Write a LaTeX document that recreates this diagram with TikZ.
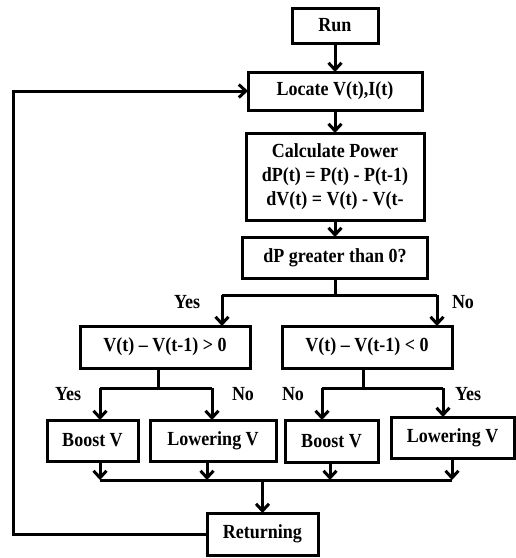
\documentclass[tikz,border=0pt]{standalone}
\usepackage{fontspec}
\setmainfont[FakeStretch=0.9]{Liberation Serif}
\usetikzlibrary{
  positioning,   % below=of
  arrows.meta    % barb arrow tips
}
\tikzset{
    box/.style = {
        rectangle,
        draw,
        line width=3pt,
        outer sep=0pt,
        inner sep=2pt,
        font=\fontsize{20}{24}\selectfont\bfseries
    },
    lbl/.style = {
        draw=none,
        inner sep=0pt,
        font=\fontsize{20}{24}\selectfont\bfseries
    },
    every path/.style = {line width=3pt},
    >={Straight Barb[length=7pt,width=13pt]}
}

\begin{document}
\begin{tikzpicture}[x=1pt,y=-1pt]
  \useasboundingbox (0,0) rectangle (516,558);

  %% main column
  \node [box, minimum width=86pt, minimum height=35pt] (run) at (335,25.5) {Run};
  \node [box, below=29pt of run, minimum width=174pt, minimum height=38pt] (loc) {Locate V(t),I(t)};
  \node [box, below=23pt of loc, minimum width=178pt, minimum height=87pt, align=center] (calc)
    {Calculate Power\\dP(t) = P(t) - P(t-1)\\dV(t) = V(t) - V(t-};
  \node [box, below=17pt of calc, minimum width=185pt, minimum height=41pt] (dp) {dP greater than 0?};

  \draw [->] (run) -- (loc);
  \draw [->] (loc) -- (calc);
  \draw [->] (calc) -- (dp);

  %% conditions
  \node [box, minimum width=170pt, minimum height=42pt] (cyes) at (165,347) {V(t) – V(t-1) > 0};
  \node [box, minimum width=170pt, minimum height=42pt] (cno) at (367,347) {V(t) – V(t-1) < 0};

  \coordinate (dpj) at (335,295);
  \coordinate (yj) at (222,295);
  \coordinate (nj) at (437,295);
  \draw (dpj |- dp.south) -- (dpj);
  \draw (yj) -- (nj);
  \draw [->] (yj) -- (yj |- cyes.north);
  \draw [->] (nj) -- (nj |- cno.north);
  \node [lbl] (yes0) at (187,302) {Yes};
  \node [lbl] (no0) at (463,302) {No};

  %% actions
  \node [box, minimum width=91pt, minimum height=41pt] (boost1) at (92.5,440.5) {Boost V};
  \node [box, minimum width=126pt, minimum height=41pt] (lower1) at (213,440.5) {Lowering V};
  \node [box, minimum width=93pt, minimum height=42pt] (boost2) at (331.5,441) {Boost V};
  \node [box, minimum width=123pt, minimum height=41pt] (lower2) at (452.5,437.5) {Lowering V};

  \coordinate (cyj) at (158,388);
  \coordinate (cyl) at (100,388);
  \coordinate (cyr) at (212,388);
  \draw (cyj |- cyes.south) -- (cyj);
  \draw (cyl) -- (cyr);
  \draw [->] (cyl) -- (cyl |- boost1.north);
  \draw [->] (cyr) -- (cyr |- lower1.north);
  \node [lbl] (yes1) at (68,394) {Yes};
  \node [lbl] (no1) at (243,394) {No};

  \coordinate (cnj) at (363,388);
  \coordinate (cnl) at (322,388);
  \coordinate (cnr) at (443,388);
  \draw (cnj |- cno.south) -- (cnj);
  \draw (cnl) -- (cnr);
  \draw [->] (cnl) -- (cnl |- boost2.north);
  \draw [->] (cnr) -- (cnr |- lower2.north);
  \node [lbl] (no2) at (293,394) {No};
  \node [lbl] (yes2) at (468,394) {Yes};

  %% collect
  \node [box, minimum width=111pt, minimum height=42pt] (ret) at (262.5,534) {Returning};

  \coordinate (bus1) at (100,480);
  \coordinate (bus2) at (207,480);
  \coordinate (bus3) at (330,480);
  \coordinate (bus4) at (452,480);
  \coordinate (busm) at (262.5,480);
  \draw (bus1) -- (bus4);
  \draw [->] (bus1 |- boost1.south) -- (bus1);
  \draw [->] (bus2 |- lower1.south) -- (bus2);
  \draw [->] (bus3 |- boost2.south) -- (bus3);
  \draw [->] (bus4 |- lower2.south) -- (bus4);
  \draw [->] (busm) -- (ret);

  %% loop back
  \coordinate (fb) at (13,0);
  \draw [->] (ret.west) -| (fb |- loc.west) -- (loc.west);

\end{tikzpicture}
\end{document}
